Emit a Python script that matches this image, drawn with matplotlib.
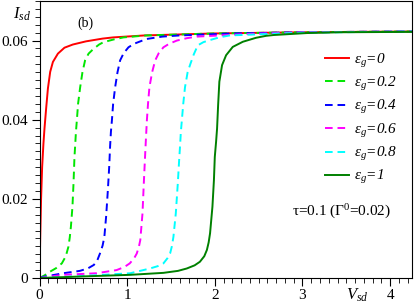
import numpy as np
import matplotlib
matplotlib.use('Agg')
import matplotlib.pyplot as plt
from matplotlib.ticker import MultipleLocator, FuncFormatter

plt.rcParams['font.family'] = 'Liberation Serif'
plt.rcParams['mathtext.fontset'] = 'custom'
plt.rcParams['mathtext.rm'] = 'Liberation Serif'
plt.rcParams['mathtext.it'] = 'Liberation Serif:italic'
plt.rcParams['lines.scale_dashes'] = False

# curves: (V_sd, I_sd)
V_e0 = [0, 0.008, 0.018, 0.03, 0.045, 0.057, 0.076, 0.096, 0.122, 0.153, 0.21, 0.285, 0.38, 0.53,
        0.72, 0.84, 1.2, 2.0, 3.0, 4.25]
I_e0 = [0, 0.010, 0.020, 0.028, 0.034, 0.0378, 0.0429, 0.0479, 0.0521, 0.0546, 0.0567, 0.0582, 0.059, 0.0598,
        0.0605, 0.0608, 0.0613, 0.0618, 0.0621, 0.0623]

V_e02 = [0, 0.06, 0.12, 0.19, 0.255, 0.3, 0.33, 0.345, 0.358, 0.376, 0.388, 0.399, 0.407, 0.416, 0.426,
         0.44, 0.464, 0.49, 0.52, 0.56, 0.616, 0.68, 0.73, 0.85, 0.958, 1.22, 2.0, 3.0, 4.25]
I_e02 = [0, 0.0007, 0.0016, 0.0025, 0.0037, 0.0055, 0.0079, 0.0102, 0.0129, 0.018, 0.0239, 0.0306, 0.0335, 0.037, 0.0398,
         0.044, 0.0482, 0.052, 0.055, 0.0567, 0.0579, 0.059, 0.0596, 0.0603, 0.0608, 0.0613, 0.0618, 0.0621, 0.0623]

V_e04 = [0, 0.046, 0.27, 0.46, 0.55, 0.62, 0.66, 0.69, 0.72, 0.74, 0.76, 0.78, 0.795, 0.806, 0.815, 0.826,
         0.84, 0.863, 0.89, 0.92, 0.96, 1.015, 1.08, 1.15, 1.22, 1.4, 1.6, 2.2, 3.0, 4.25]
I_e04 = [0, 0.0003, 0.0012, 0.0018, 0.0024, 0.0033, 0.0045, 0.0062, 0.0082, 0.0104, 0.0155, 0.0222, 0.028, 0.0335, 0.037, 0.0398,
         0.044, 0.0482, 0.052, 0.055, 0.0568, 0.0583, 0.0592, 0.0598, 0.0604, 0.061, 0.0613, 0.0618, 0.0621, 0.0623]

V_e06 = [0, 0.27, 0.65, 0.88, 0.97, 1.03, 1.08, 1.11, 1.135, 1.15, 1.175, 1.19, 1.205, 1.215, 1.225, 1.238,
         1.254, 1.285, 1.32, 1.36, 1.414, 1.48, 1.567, 1.68, 1.795, 2.4, 3.0, 4.25]
I_e06 = [0, 0.0008, 0.0012, 0.002, 0.0028, 0.0037, 0.005, 0.0062, 0.008, 0.0096, 0.0163, 0.0239, 0.031, 0.0355, 0.0398, 0.044,
         0.0482, 0.052, 0.055, 0.0568, 0.0583, 0.0592, 0.06, 0.0606, 0.061, 0.0617, 0.0621, 0.0623]

V_e08 = [0, 0.5, 1.034, 1.26, 1.35, 1.414, 1.46, 1.49, 1.51, 1.528, 1.555, 1.578, 1.593, 1.604, 1.613, 1.624,
         1.64, 1.66, 1.69, 1.72, 1.76, 1.806, 1.87, 1.94, 2.05, 2.17, 3.0, 4.25]
I_e08 = [0, 0.0005, 0.0012, 0.0024, 0.003, 0.0037, 0.005, 0.0062, 0.008, 0.0104, 0.0163, 0.0239, 0.0297, 0.0335, 0.037, 0.0398,
         0.044, 0.0482, 0.052, 0.054, 0.0565, 0.0588, 0.0596, 0.0601, 0.0608, 0.0613, 0.0620, 0.0623]

V_e1 = [0, 0.5, 1.034, 1.414, 1.58, 1.68, 1.77, 1.83, 1.88, 1.91, 1.93, 1.946, 1.973, 1.99, 2.0, 2.015,
        2.026, 2.038, 2.052, 2.083, 2.129, 2.205, 2.32, 2.47, 2.585, 2.67, 3.05, 3.43, 4.25]
I_e1 = [0, 0.0004, 0.0008, 0.0013, 0.0018, 0.0024, 0.0032, 0.0041, 0.0055, 0.0071, 0.009, 0.0113, 0.018, 0.0247, 0.0306, 0.0345,
        0.0378, 0.0437, 0.0496, 0.0538, 0.0563, 0.0584, 0.0597, 0.0607, 0.0612, 0.0614, 0.0619, 0.0621, 0.0622]

labels = ['ε$_g$=0', 'ε$_g$=0.2', 'ε$_g$=0.4', 'ε$_g$=0.6', 'ε$_g$=0.8', 'ε$_g$=1']
series = [(V_e0, I_e0), (V_e02, I_e02), (V_e04, I_e04), (V_e06, I_e06), (V_e08, I_e08), (V_e1, I_e1)]
colors = ['#ff0000', '#00e600', '#0000ff', '#ff00ff', '#00ffff', '#008000']
dashed = [False, True, True, True, True, False]

fig = plt.figure(figsize=(4.15, 3.06), dpi=100)
ax = fig.add_axes([39.5/415, 1 - 278/306, (412 - 39.5)/415, 277/306])

for (v, i), lab, c, d in zip(series, labels, colors, dashed):
    if d:
        ax.plot(v, i, color=c, lw=1.4, dashes=(5.5, 3.5), label=lab)
    else:
        ax.plot(v, i, color=c, lw=1.4, label=lab)

ax.set_xlim(0, 4.25)
ax.set_ylim(0, 0.07)
ax.xaxis.set_major_locator(MultipleLocator(1))
ax.xaxis.set_minor_locator(MultipleLocator(0.1))
ax.yaxis.set_major_locator(MultipleLocator(0.02))
ax.yaxis.set_minor_locator(MultipleLocator(0.002))
ax.xaxis.set_major_formatter(FuncFormatter(lambda x, p: f'{x:g}'))
ax.yaxis.set_major_formatter(FuncFormatter(lambda y, p: '0' if y == 0 else f'{y:.2f}'))
ax.tick_params(which='major', direction='out', length=6, width=0.8, labelsize=11, pad=2)
ax.tick_params(which='minor', direction='out', length=3.5, width=0.6)
ax.tick_params(top=False, right=False)
for s in ax.spines.values():
    s.set_linewidth(0.8)

ax.text(3.5, -0.0043, r'$V_{sd}$', fontsize=12, ha='left', va='center', clip_on=False)
fig.text(13/415, 1 - 14/306, r'$I_{sd}$', fontsize=12, ha='left', va='center')
ax.text(0.43, 0.0645, '(b)', fontsize=10, ha='left', va='center')
ax.text(3.45, 0.0168, r'τ=0.1 (Γ$^0$=0.02)', fontsize=11, ha='center', va='center')

ax.legend(loc='upper left', bbox_to_anchor=(0.745, 0.845), frameon=False,
          prop={'family': 'Liberation Serif', 'style': 'italic', 'size': 11},
          handlelength=1.6, handletextpad=0.3, labelspacing=0.35, borderpad=0)

fig.savefig('out.png', dpi=100)
